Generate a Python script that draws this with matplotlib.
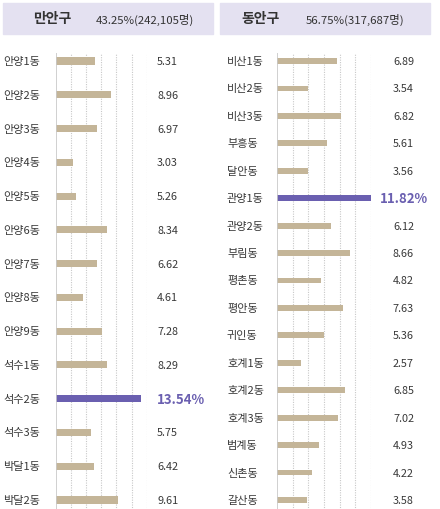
import matplotlib
matplotlib.use("Agg")
import matplotlib.pyplot as plt
from matplotlib.patches import Rectangle
from matplotlib.transforms import blended_transform_factory

plt.rcParams['font.family'] = ['Noto Sans CJK KR', 'DejaVu Sans']

# 만안구
left_title = '만안구'
left_sub = '43.25%(242,105명)'
left_names = ['안양1동', '안양2동', '안양3동', '안양4동', '안양5동', '안양6동', '안양7동',
              '안양8동', '안양9동', '석수1동', '석수2동', '석수3동', '박달1동', '박달2동']
left_pct = [5.31, 8.96, 6.97, 3.03, 5.26, 8.34, 6.62, 4.61, 7.28, 8.29, 13.54, 5.75, 6.42, 9.61]
# bar lengths as drawn (grid units)
left_bar = [2.59, 3.67, 2.75, 1.12, 1.36, 3.38, 2.75, 1.80, 3.08, 3.38, 5.62, 2.33, 2.50, 4.13]

# 동안구
right_title = '동안구'
right_sub = '56.75%(317,687명)'
right_names = ['비산1동', '비산2동', '비산3동', '부흥동', '달안동', '관양1동', '관양2동', '부림동',
               '평촌동', '평안동', '귀인동', '호계1동', '호계2동', '호계3동', '범계동', '신촌동', '갈산동']
right_pct = [6.89, 3.54, 6.82, 5.61, 3.56, 11.82, 6.12, 8.66, 4.82, 7.63, 5.36, 2.57, 6.85,
             7.02, 4.93, 4.22, 3.58]
right_bar = [3.83, 1.99, 4.12, 3.20, 1.99, 6.43, 3.42, 4.70, 2.80, 4.23, 2.99, 1.50, 4.36,
             3.87, 2.69, 2.20, 1.94]

W, H = 440, 510
TAN = '#c4b598'
PURPLE = '#6a5fb0'
TXT = '#383838'
HEAD = '#e4e1f1'

fig = plt.figure(figsize=(W / 100, H / 100), dpi=100)
fig.patch.set_facecolor('white')


def fx(px):
    return px / W


def fy(py):
    return 1 - py / H


def panel(x0, x1, first, step, names, pct, bars, name_x, val_x, val_ha, hi_x):
    n = len(names)
    top, bottom = 54, 518
    ax = fig.add_axes([fx(x0), fy(bottom), fx(x1 - x0), (bottom - top) / H])
    y_top = -(first - top) / step
    y_bot = (n - 1) + (bottom - (first + (n - 1) * step)) / step
    hi = pct.index(max(pct))
    cols = [PURPLE if i == hi else TAN for i in range(n)]
    ax.barh(range(n), bars, height=0.21, color=cols, zorder=3)
    ax.set_xlim(0, 6)
    ax.set_ylim(y_bot, y_top)
    for g in range(1, 7):
        ax.axvline(g, color='#c8c8c8', lw=0.8, ls=(0, (1, 1.2)), zorder=1)
    ax.axvline(0, color='#c8c8c8', lw=1.2, zorder=4)
    ax.axis('off')
    tr = blended_transform_factory(fig.transFigure, ax.transData)
    for i in range(n):
        ax.text(fx(name_x), i, names[i], transform=tr, ha='left', va='center',
                fontsize=8, color=TXT)
        if i == hi:
            ax.text(fx(hi_x), i, '%.2f%%' % pct[i], transform=tr, ha='left', va='center',
                    fontsize=9.5, fontweight='bold', color=PURPLE)
        else:
            ax.text(fx(val_x), i, '%.2f' % pct[i], transform=tr, ha=val_ha, va='center',
                    fontsize=7.8, color=TXT)
    return ax


def header(x0, x1, title, sub, tx, sx):
    fig.patches.append(Rectangle((fx(x0), fy(35)), fx(x1 - x0), 31 / H,
                                 transform=fig.transFigure, color=HEAD, zorder=0))
    fig.text(fx(tx), fy(19.5), title, ha='left', va='center', fontsize=10,
             fontweight='bold', color='#333333')
    fig.text(fx(sx), fy(19.5), sub, ha='left', va='center', fontsize=8.2, color='#333333')


header(3, 213, left_title, left_sub, 33, 96)
header(220, 430, right_title, right_sub, 241, 306)

panel(55.7, 146.7, 62, (501 - 62) / 13, left_names, left_pct, left_bar,
      3, 157, 'left', 157)
panel(277.3, 370.7, 62, (501 - 62) / 16, right_names, right_pct, right_bar,
      227, 414, 'right', 380)

fig.savefig('out.png', dpi=100)
